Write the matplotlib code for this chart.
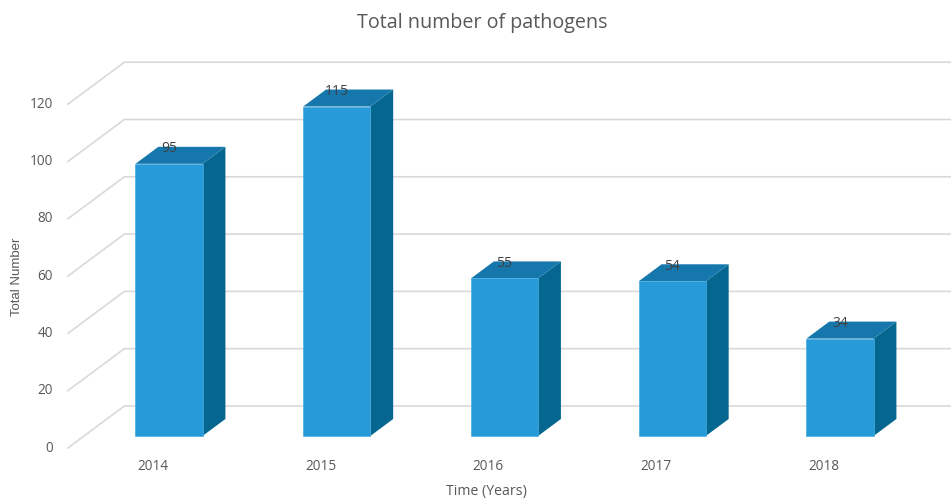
import matplotlib

matplotlib.use("Agg")
import matplotlib.pyplot as plt
from matplotlib.patches import Polygon

years = ["2014", "2015", "2016", "2017", "2018"]
counts = [95, 115, 55, 54, 34]
y_ticks = [0, 20, 40, 60, 80, 100, 120]

FRONT = "#279bd9"
TOP = "#1577ab"
SIDE = "#05668f"
GRID = "#d9d9d9"
TEXT = "#595959"

# pixel geometry of the fake 3d projection (figure is 951x500 at dpi 100)
PX_PER_CAT = 167.75
PX_PER_UNIT = 2.865
X0_PX, Y0_PX = 169, 436          # centre of first bar / zero line on bar front plane
SLOPE = 1.345                     # depth direction: dx = SLOPE * depth, dy = -depth (px)
BAR_W = 0.4


def shift(depth):
    """depth (px) -> offset in data units (dx, dv)"""
    return depth * SLOPE / PX_PER_CAT, depth / PX_PER_UNIT


fig = plt.figure(figsize=(9.51, 5.0), dpi=100)
ax = fig.add_axes([0, 0, 1, 1])
ax.set_xlim(-X0_PX / PX_PER_CAT, (951 - X0_PX) / PX_PER_CAT)
ax.set_ylim((Y0_PX - 500) / PX_PER_UNIT, Y0_PX / PX_PER_UNIT)
ax.axis("off")

# gridlines: floor edge -> back wall -> right
x_left = (84 - X0_PX) / PX_PER_CAT
fdx, fdv = shift(-12)
bdx, bdv = shift(30)
xmax = ax.get_xlim()[1]
for v in y_ticks:
    ax.plot([x_left + fdx, x_left + bdx, xmax], [v + fdv, v + bdv, v + bdv],
            color=GRID, lw=1.2, zorder=1)
    ax.text(x_left + fdx - 15 / PX_PER_CAT, v + fdv, str(v), ha="right", va="center",
            fontsize=9.8, color=TEXT, family="Open Sans")

# bars
ddx, ddv = shift(17)
for i, (yr, c) in enumerate(zip(years, counts)):
    l, r = i - BAR_W / 2, i + BAR_W / 2
    side = Polygon([(r, 0), (r + ddx, ddv), (r + ddx, c + ddv), (r, c)],
                   closed=True, fc=SIDE, ec="none", zorder=2)
    top = Polygon([(l, c), (r, c), (r + ddx, c + ddv), (l + ddx, c + ddv)],
                  closed=True, fc=TOP, ec="none", zorder=2)
    front = Polygon([(l, 0), (r, 0), (r, c), (l, c)],
                    closed=True, fc=FRONT, ec="#4aaae0", lw=0.5, zorder=3)
    for p in (side, top, front):
        ax.add_patch(p)
    ax.text(i, c + 5.2, str(c), ha="center", va="center", fontsize=10,
            color="#404040", family="Open Sans", zorder=4)
    ax.text(i + fdx, -10.8, yr, ha="center", va="center", fontsize=9.8,
            color=TEXT, family="Open Sans")

fig.text(0.507, 1 - 23 / 500, "Total number of pathogens", ha="center", va="center",
         fontsize=14.2, color=TEXT, family="Open Sans")
fig.text(0.511, 1 - 491 / 500, "Time (Years)", ha="center", va="center",
         fontsize=10.2, color=TEXT, family="Open Sans")
fig.text(17 / 951, 1 - 277 / 500, "Total Number", ha="center", va="center",
         rotation=90, fontsize=9.5, color=TEXT, family="Liberation Sans")

fig.savefig("out.png", dpi=100)
